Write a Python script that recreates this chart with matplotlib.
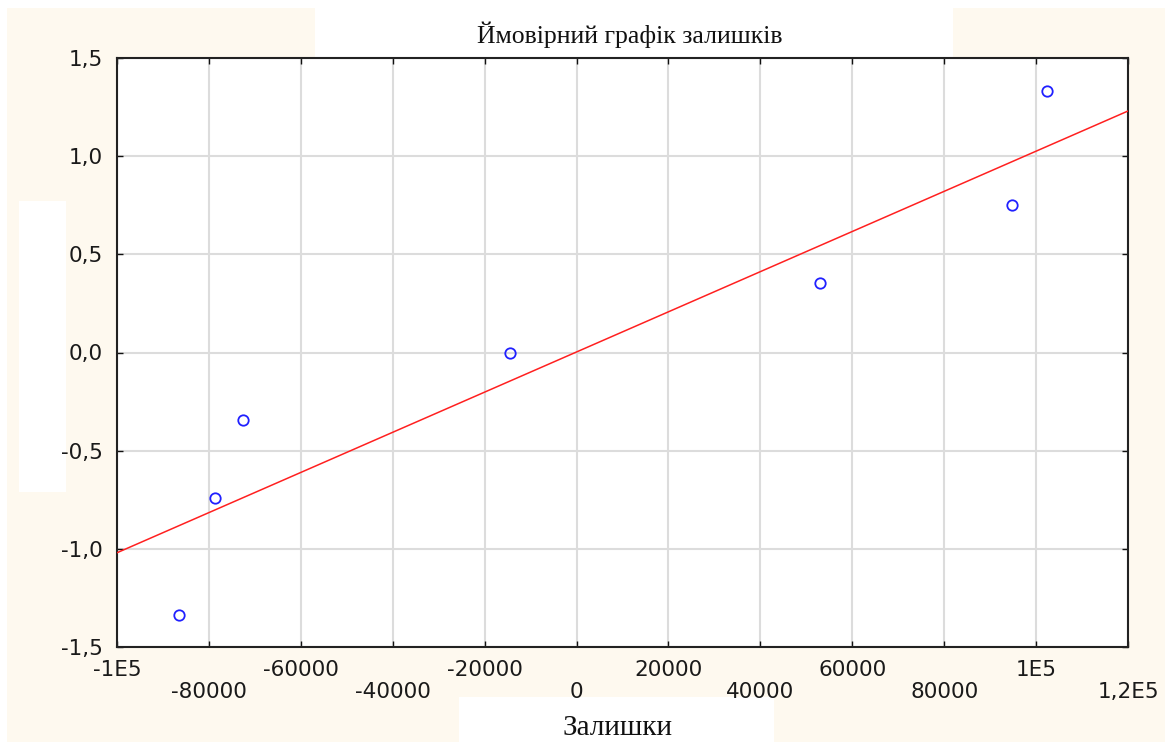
import numpy as np
import matplotlib
matplotlib.use("Agg")
import matplotlib.pyplot as plt
from matplotlib.patches import Rectangle
from matplotlib.ticker import FixedLocator, FixedFormatter

# residuals vs expected normal values
residuals = [-86500, -78700, -72600, -14500, 53000, 94800, 102400]
expected = [-1.337, -0.741, -0.344, 0.0, 0.354, 0.751, 1.332]

# fitted reference line (end points)
line_x = [-100000, 120000]
line_y = [-1.02, 1.23]

xticks_top = [-100000, -60000, -20000, 20000, 60000, 100000]
xlabels_top = ['-1E5', '-60000', '-20000', '20000', '60000', '1E5']
xticks_low = [-80000, -40000, 0, 40000, 80000, 120000]
xlabels_low = ['-80000', '-40000', '0', '40000', '80000', '1,2E5']
yticks = [-1.5, -1.0, -0.5, 0.0, 0.5, 1.0, 1.5]
ylabels = ['-1,5', '-1,0', '-0,5', '0,0', '0,5', '1,0', '1,5']

title = 'Ймовірний графік залишків'
xlabel = 'Залишки'

W, H = 1165, 742
fig = plt.figure(figsize=(W / 100, H / 100), dpi=100)
fig.patch.set_facecolor('white')

cream = '#fef9ef'


def box(x0, y0, x1, y1, color):
    # pixel box (top-left origin) -> figure fraction
    fig.patches.append(Rectangle((x0 / W, 1 - y1 / H), (x1 - x0) / W, (y1 - y0) / H,
                                 transform=fig.transFigure, facecolor=color,
                                 edgecolor='none', zorder=-10))


box(7, 8, W, H, cream)
box(315, 0, 953, 58, 'white')
box(19, 201, 66, 492, 'white')
box(459, 697, 774, H, 'white')

ax = fig.add_axes([117 / W, 1 - 647 / H, (1128 - 117) / W, (647 - 58) / H])
ax.set_zorder(5)
ax.set_facecolor('white')
ax.set_xlim(-100000, 120000)
ax.set_ylim(-1.5, 1.5)

ax.xaxis.set_major_locator(FixedLocator(xticks_top))
ax.xaxis.set_major_formatter(FixedFormatter(xlabels_top))
ax.xaxis.set_minor_locator(FixedLocator(xticks_low))
ax.xaxis.set_minor_formatter(FixedFormatter(xlabels_low))
ax.set_yticks(yticks)
ax.set_yticklabels(ylabels)

tick_font = dict(family='DejaVu Sans', size=15.5)
txt_col = '#1a1a1a'
for lab in ax.get_xticklabels(which='both') + ax.get_yticklabels():
    lab.set_fontfamily(tick_font['family'])
    lab.set_fontsize(tick_font['size'])
    lab.set_color(txt_col)

ax.tick_params(axis='both', which='both', direction='in', length=4, width=1,
               color='#111111', top=True, right=True)
ax.tick_params(axis='x', which='major', pad=9.5)
ax.tick_params(axis='x', which='minor', pad=25.5)
ax.tick_params(axis='y', pad=10)

ax.grid(True, which='both', color='#dcdcdc', linewidth=1.5)
ax.set_axisbelow(True)
for s in ax.spines.values():
    s.set_color('#222222')
    s.set_linewidth(1.5)

ax.plot(line_x, line_y, color='#ff2020', linewidth=1.1, zorder=3)
ax.plot(residuals, expected, linestyle='none', marker='o', markersize=7.5,
        markerfacecolor='none', markeredgecolor='#2020ff', markeredgewidth=1.3,
        zorder=4)

fig.text(630 / W, 1 - 43 / H, title, family='Liberation Serif', size=18.5,
         ha='center', va='baseline', color='#111111')
fig.text(617 / W, 1 - 735 / H, xlabel, family='Liberation Serif', size=21,
         ha='center', va='baseline', color='#111111')

fig.savefig('out.png', dpi=100)
